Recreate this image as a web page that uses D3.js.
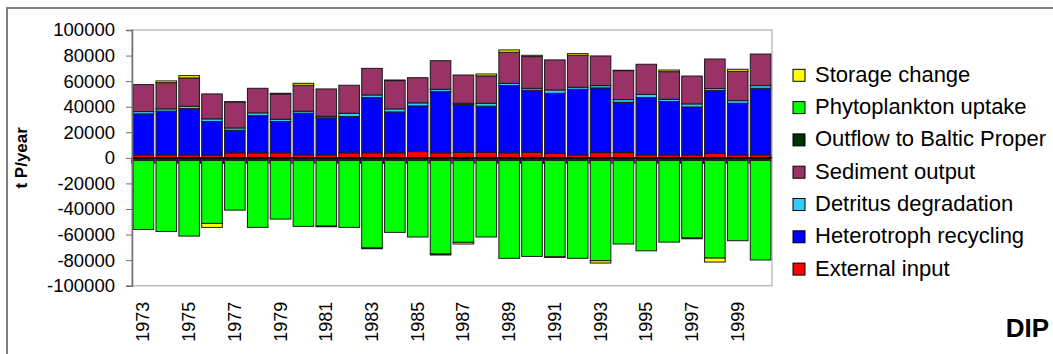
<!DOCTYPE html>
<html><head><meta charset="utf-8">
<script src="https://cdn.jsdelivr.net/npm/d3@7"></script>
<style>
html,body{margin:0;padding:0;background:#fff;}
svg{display:block;font-family:"Liberation Sans",Arial,sans-serif;}
</style></head>
<body><svg id="c" width="1053" height="354"></svg>
<script>
const years = [1973,1974,1975,1976,1977,1978,1979,1980,1981,1982,1983,1984,1985,1986,1987,1988,1989,1990,1991,1992,1993,1994,1995,1996,1997,1998,1999,2000];
const externalInput = [2300,2300,2300,2100,3900,3900,3900,2300,2300,3900,3900,3900,4900,3900,4400,4400,3900,4400,3600,2300,4100,4100,2300,2300,2300,3600,2300,2300];
const heterotrophRecycling = [32100,34200,36200,26300,17700,29100,24500,32600,29000,28400,43200,32000,35700,47900,37300,36000,52600,48500,46900,51300,50600,39400,44800,41700,37500,49000,40400,52100];
const detritusDegradation = [1800,1800,1900,2100,1800,2200,1800,1600,1200,2600,2100,2400,2400,1800,1000,2300,1800,1500,2600,1600,1800,2100,2600,1800,2400,1600,2100,2100];
const sedimentOutput = [21100,20500,22100,19500,20100,19200,19800,20300,21400,21900,20800,22100,19700,22400,22100,21400,24300,24800,23500,25000,23200,22600,23500,21600,21800,23100,22900,24700];
const outflowBalticProper = [-2000,-2000,-2000,-2000,-2000,-2000,-2000,-2000,-2000,-2000,-2000,-2000,-2000,-2000,-2000,-2000,-2000,-2000,-2000,-2000,-2000,-2000,-2000,-2000,-2000,-2000,-2000,-2000];
const phytoplanktonUptake = [-54000,-55600,-59200,-49300,-38900,-52400,-45900,-51600,-51400,-52400,-68500,-56300,-59900,-73200,-64100,-59900,-76600,-75100,-75400,-76600,-78500,-65400,-70700,-63900,-60700,-76400,-62800,-77900];
const storageChange = [0,1400,1800,-3100,500,0,500,1500,-500,0,-600,500,0,-800,-1300,1500,1800,1000,-500,1300,-1800,300,0,1300,-600,-3100,1600,0];
const yTicks = [-100000,-80000,-60000,-40000,-20000,0,20000,40000,60000,80000,100000];
const xLabels = [1973,1975,1977,1979,1981,1983,1985,1987,1989,1991,1993,1995,1997,1999];

const seriesNames = ["External input","Heterotroph recycling","Detritus degradation","Sediment output","Outflow to Baltic Proper","Phytoplankton uptake","Storage change"];
const seriesData = [externalInput,heterotrophRecycling,detritusDegradation,sedimentOutput,outflowBalticProper,phytoplanktonUptake,storageChange];
const colors = ["#ff0000","#0000ff","#33ccff","#993366","#003300","#00ff00","#ffff00"];

const rows = years.map((y,i)=>{const r={year:y}; seriesNames.forEach((s,k)=>r[s]=seriesData[k][i]); return r;});
const stack = d3.stack().keys(seriesNames).offset(d3.stackOffsetDiverging)(rows);

const svg = d3.select("#c");
const L=132, R=772, T=30, B=285.7;
const x = d3.scaleBand().domain(years).range([L,R]).paddingInner(0.1).paddingOuter(0.05);
const y = d3.scaleLinear().domain([-100000,100000]).range([B,T]);

// outer frame
svg.append("path").attr("d","M7,360 L7,8 L1060,8").attr("fill","none").attr("stroke","#808080").attr("stroke-width",2);

// plot area border
svg.append("rect").attr("x",L).attr("y",T).attr("width",R-L).attr("height",B-T).attr("fill","#fff").attr("stroke","#b0b0b0").attr("stroke-width",1.2);

// bars
svg.append("g").selectAll("g").data(stack).join("g")
  .attr("fill",(d,i)=>colors[i])
  .selectAll("rect").data(d=>d.filter(p=>p[1]!==p[0])).join("rect")
  .attr("x",d=>x(d.data.year))
  .attr("width",x.bandwidth())
  .attr("y",d=>y(Math.max(d[0],d[1])))
  .attr("height",d=>Math.abs(y(d[0])-y(d[1])))
  .attr("stroke","#1a1a1a").attr("stroke-width",1);

// zero line with category ticks
svg.append("line").attr("x1",L).attr("x2",R).attr("y1",y(0)).attr("y2",y(0)).attr("stroke","#000").attr("stroke-width",1.2);
const step = x.step();
svg.append("g").selectAll("line").data(years).join("line")
  .attr("x1",d=>x(d)-step*0.05).attr("x2",d=>x(d)-step*0.05)
  .attr("y1",y(0)).attr("y2",y(0)+6).attr("stroke","#000").attr("stroke-width",1.2);

// y axis
const ya = svg.append("g").attr("transform",`translate(${L},0)`)
  .call(d3.axisLeft(y).tickValues(yTicks).tickSize(6).tickPadding(11).tickFormat(d=>String(d)));
ya.select(".domain").attr("stroke","#707070").attr("stroke-width",1.5);
ya.selectAll(".tick line").attr("stroke","#707070");
ya.selectAll("text").attr("font-size","18.5px").attr("fill","#000").attr("font-family","Liberation Sans, Arial, sans-serif");

// x labels
svg.append("g").selectAll("text").data(xLabels).join("text")
  .attr("transform",d=>`translate(${x(d)+x.bandwidth()/2+6},${B+16}) rotate(-90)`)
  .attr("text-anchor","end").attr("font-size","18px").text(d=>d);

// y title
svg.append("text").attr("transform",`translate(27,${(T+B)/2}) rotate(-90)`)
  .attr("text-anchor","middle").attr("font-weight","bold").attr("font-size","17px").text("t P/year");

// legend
const legOrder = [6,5,4,3,2,1,0];
const lg = svg.append("g");
legOrder.forEach((k,i)=>{
  const cy = 74.3 + i*32.3;
  lg.append("rect").attr("x",793).attr("y",cy-5).attr("width",12).attr("height",12).attr("fill",colors[k]).attr("stroke","#000").attr("stroke-width",1);
  lg.append("text").attr("x",815).attr("y",cy+7.5).attr("font-size","22px").text(seriesNames[k]);
});

// DIP label
svg.append("text").attr("x",1049).attr("y",337).attr("text-anchor","end").attr("font-weight","bold").attr("font-size","26px").text("DIP");
</script></body></html>
